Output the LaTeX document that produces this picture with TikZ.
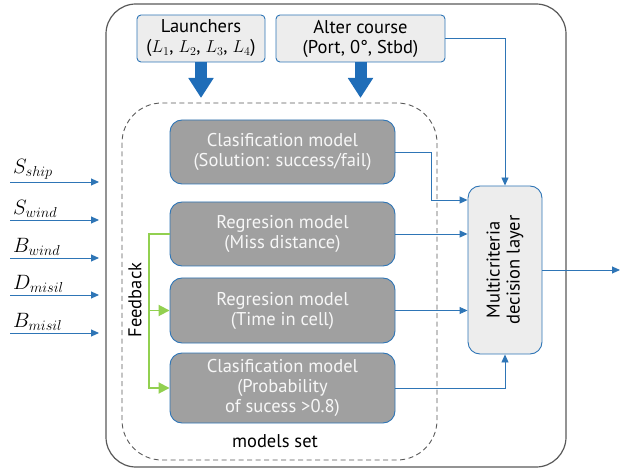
\documentclass[tikz,border=0pt]{standalone}
\usepackage{fontspec}
\setmainfont{PT Sans}
\usetikzlibrary{arrows.meta}

\definecolor{linkblue}{HTML}{2E75B6}
\definecolor{arrowblue}{HTML}{1F6DB8}
\definecolor{fbgreen}{HTML}{92D050}
\definecolor{modelgray}{HTML}{A0A0A0}
\definecolor{paneGray}{HTML}{EDEDED}
\definecolor{frameGray}{HTML}{595959}

\tikzset{
	inbox/.style={rectangle, draw=linkblue, fill=paneGray, rounded corners=4pt, align=center, text centered, line width=0.9pt, inner sep=1pt},
	modelbox/.style={rectangle, draw=linkblue, fill=modelgray, text=white!94!gray, rounded corners=12pt, align=center, minimum width=225pt, line width=0.9pt, inner sep=1pt},
	link/.style={draw=linkblue, line width=0.9pt, -{Triangle[length=8pt,width=7pt]}},
	fatarrow/.style={draw=arrowblue, line width=12pt, -{Triangle[length=20pt,width=24pt]}},
	fbline/.style={draw=fbgreen, line width=1.8pt, -{Triangle[length=11pt,width=11pt]}}
}

\begin{document}
\begin{tikzpicture}[x=1pt, y=-1pt, font=\fontsize{18.5}{20}\selectfont]
		\useasboundingbox (0,0) rectangle (621,470);
		
		%Frames
		\draw[frameGray, line width=1.2pt, rounded corners=30pt] (106,4) rectangle (566,467);
		\draw[frameGray, dash pattern=on 5pt off 3.5pt, line width=0.9pt, rounded corners=40pt] (122,103) rectangle (437,460);
		\node (modelsSet) at (275,441) {models set};
		\node (feedback) at (135,300) [rotate=90] {Feedback};
		
		%Inputs of the system
		\node (launchers) at (201,38.5) [inbox, minimum width=128pt, minimum height=47pt] {Launchers\\($L_1$, $L_2$, $L_3$, $L_4$)};
		\node (alter) at (360.5,38.5) [inbox, minimum width=169pt, minimum height=47pt] {Alter course\\(Port, 0°, Stbd)};
		
		%Models
		\node (classModel) at (282.5,152) [modelbox, minimum height=64pt] {Clasification model\\(Solution: success/fail)};
		\node (missModel) at (282.5,234) [modelbox, minimum height=64pt] {Regresion model\\(Miss distance)};
		\node (timeModel) at (282.5,310.5) [modelbox, minimum height=65pt] {Regresion model\\(Time in cell)};
		\node (probModel) at (282.5,388) [modelbox, minimum height=70pt] {Clasification model\\(Probability\\of sucess >0.8)};
		
		%Decision layer
		\node (decision) at (505,270) [inbox, rounded corners=12pt, minimum width=74pt, minimum height=168pt] {};
		\node (decisionText) at (decision.center) [rotate=90, align=center] {Multicriteria\\decision layer};
		
		%Big arrows
		\coordinate (launchersTip) at (201,98);
		\coordinate (alterTip) at (360.5,98);
		\draw[fatarrow] (launchers.south) -- (launchersTip);
		\draw[fatarrow] (alter.south) -- (alterTip);
		
		%Connectors
		\draw[link] (classModel.east) -- ++(36,0) |- ([yshift=70pt]decision.west);
		\draw[link] (missModel.east) -- (decision.west |- missModel.east);
		\draw[link] (timeModel.east) -- (decision.west |- timeModel.east);
		\draw[link] (probModel.east) -| (decision.south);
		\draw[link] (alter.east) -| (decision.north);
		\coordinate (output) at (620,270);
		\draw[link] (decision.east) -- (output);
		
		%Feedback
		\coordinate (fb) at (149,234);
		\draw[fbline] (missModel.west) -- (fb) |- (probModel.west);
		\draw[fbline] (fb) |- (timeModel.west);
		
		%Variables
		\foreach \name/\var/\y in {ship/{S_{ship}}/182, swind/{S_{wind}}/220, bwind/{B_{wind}}/258, dmisil/{D_{misil}}/295, bmisil/{B_{misil}}/333}{
			\coordinate (\name Start) at (10,\y);
			\coordinate (\name End) at (99,\y);
			\draw[link] (\name Start) -- (\name End);
			\node (\name Label) at ([xshift=2pt,yshift=1pt]\name Start) [anchor=south west, inner sep=1pt, font=\fontsize{21}{22}\selectfont] {$\var$};
		}
		
		\end{tikzpicture}
\end{document}
